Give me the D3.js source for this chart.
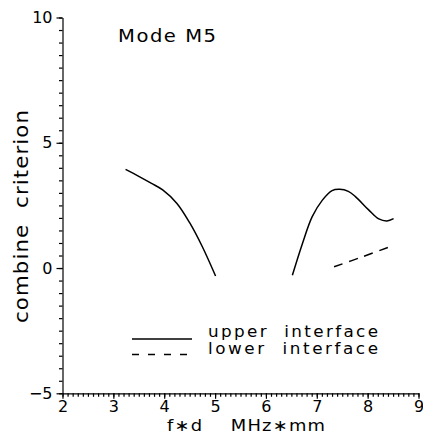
<!DOCTYPE html>
<html><head><meta charset="utf-8">
<script src="https://cdn.jsdelivr.net/npm/d3@7"></script>
<style>body{margin:0;background:#fff}svg{display:block}text{font-family:"DejaVu Sans",sans-serif;fill:#000}</style>
</head><body><svg id="c" width="423" height="436"></svg>
<script>
const xTicks = [2,3,4,5,6,7,8,9];
const yTicks = [-5,0,5,10];
const upper1X = [3.24,3.5,3.75,3.97,4.25,4.5,4.75,5.01];
const upper1Y = [3.94,3.66,3.38,3.12,2.58,1.81,0.85,-0.32];
const upper2X = [6.52,6.72,6.91,7.11,7.3,7.45,7.62,7.76,8.02,8.22,8.38,8.51];
const upper2Y = [-0.29,0.99,2.05,2.71,3.09,3.14,3.06,2.85,2.32,1.96,1.88,1.97];
const lowerX = [7.34,7.9,8.48];
const lowerY = [0.05,0.45,0.88];
const title = "Mode M5";
const xLabel = "f\u2217d    MHz\u2217mm";
const yLabel = "combine  criterion";
const legendLabels = ["upper  interface","lower  interface"];

const svg = d3.select("#c");
const x = d3.scaleLinear().domain([2,9]).range([62.5,418.5]);
const y = d3.scaleLinear().domain([-5,10]).range([393.3,17.5]);

// stretched text helper (wide rounded lettering of the original)
function wideText(parent, tf, str, size, width, stretch){
  const g = parent.append("g").attr("transform", tf + ` scale(${stretch},1)`);
  return g.append("text").attr("font-size",size).style("white-space","pre")
    .attr("textLength",width/stretch).attr("lengthAdjust","spacing").text(str);
}

// x axis: minor + major ticks
svg.append("g").attr("transform",`translate(0,${y(-5)})`)
  .call(d3.axisBottom(x).tickValues(d3.range(2,9.001,0.1)).tickSizeInner(3.5).tickSizeOuter(0).tickFormat(""))
  .call(g=>g.selectAll("line,path").attr("stroke","#000").attr("stroke-width",1.2));
svg.append("g").attr("transform",`translate(0,${y(-5)})`)
  .call(d3.axisBottom(x).tickValues(xTicks).tickSize(5.5).tickFormat(d3.format("d")))
  .call(g=>g.select(".domain").remove())
  .call(g=>g.selectAll("line").attr("stroke","#000").attr("stroke-width",1.2))
  .call(g=>g.selectAll("text").attr("font-size",16).attr("y",19).attr("dy",0));

// y axis: minor + major ticks
svg.append("g").attr("transform",`translate(${x(2)},0)`)
  .call(d3.axisLeft(y).tickValues(d3.range(-5,10.001,0.5)).tickSizeInner(3.5).tickSizeOuter(0).tickFormat(""))
  .call(g=>g.selectAll("line,path").attr("stroke","#000").attr("stroke-width",1.2));
svg.append("g").attr("transform",`translate(${x(2)},0)`)
  .call(d3.axisLeft(y).tickValues(yTicks).tickSize(6).tickPadding(4).tickFormat(d=>d<0?"\u2212"+(-d):d))
  .call(g=>g.select(".domain").remove())
  .call(g=>g.selectAll("line").attr("stroke","#000").attr("stroke-width",1.2))
  .call(g=>g.selectAll("text").attr("font-size",16));

// curves
const line = d3.line().x(d=>x(d[0])).y(d=>y(d[1])).curve(d3.curveCatmullRom);
svg.append("path").datum(d3.zip(upper1X,upper1Y)).attr("d",line)
  .attr("fill","none").attr("stroke","#000").attr("stroke-width",1.5);
svg.append("path").datum(d3.zip(upper2X,upper2Y)).attr("d",line)
  .attr("fill","none").attr("stroke","#000").attr("stroke-width",1.5);
svg.append("path").datum(d3.zip(lowerX,lowerY)).attr("d",line)
  .attr("fill","none").attr("stroke","#000").attr("stroke-width",1.5).attr("stroke-dasharray","9,7");

// title and axis labels
wideText(svg, "translate(118,42)", title, 17, 98, 1.15);
wideText(svg, "translate(167,431)", xLabel, 16, 158, 1.12);
wideText(svg, "translate(28,323) rotate(-90)", yLabel, 19, 213, 1.12);

// legend
const lg = svg.append("g");
lg.append("line").attr("x1",132).attr("x2",192).attr("y1",339).attr("y2",339).attr("stroke","#000").attr("stroke-width",1.3);
lg.append("line").attr("x1",132).attr("x2",192).attr("y1",354.5).attr("y2",354.5).attr("stroke","#000").attr("stroke-width",1.3).attr("stroke-dasharray","7,9");
legendLabels.forEach((d,i)=>wideText(lg, `translate(208,${336.5+i*17.5})`, d, 15, 170, 1.12));
</script></body></html>
